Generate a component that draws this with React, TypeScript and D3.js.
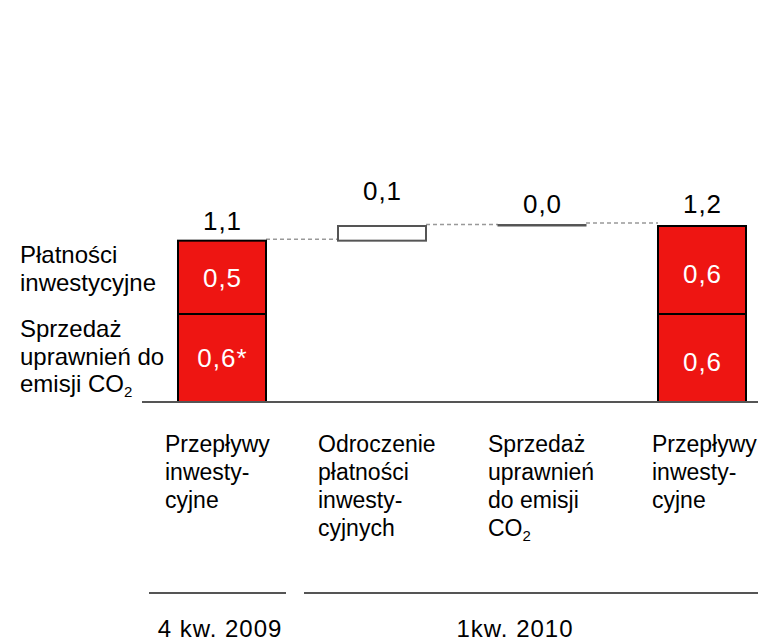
import React from "react";
import * as d3 from "d3";

// ---------- data ----------
const categories = ["start", "deferral", "co2sale", "end"];
const startSegments = [0.6, 0.5];
const startSegmentLabels = ["0,6*", "0,5"];
const deltaValues = [0.1, 0.01];
const endSegments = [0.6, 0.6];
const endSegmentLabels = ["0,6", "0,6"];
const totalLabels = ["1,1", "0,1", "0,0", "1,2"];
const categoryLines = [
  ["Przepływy", "inwesty-", "cyjne"],
  ["Odroczenie", "płatności", "inwesty-", "cyjnych"],
  ["Sprzedaż", "uprawnień", "do emisji", "CO2"],
  ["Przepływy", "inwesty-", "cyjne"],
];
const segmentNames = [
  ["Sprzedaż", "uprawnień do", "emisji CO2"],
  ["Płatności", "inwestycyjne"],
];
const periods = ["4 kw. 2009", "1kw. 2010"];

// ---------- layout ----------
const W = 758;
const H = 643;
const FONT = "Arial, 'Liberation Sans', Helvetica, sans-serif";
const RED = "#ee1512";
const GREY = "#555555";
const DASH = "#999999";

const x = d3
  .scaleBand<string>()
  .domain(categories)
  .range([142, 782])
  .paddingInner(0.45)
  .paddingOuter(0.225);
const y = d3.scaleLinear().domain([0, 1.2]).range([402, 226]);
const bw = x.bandwidth();

function renderLine(s: string) {
  if (s.endsWith("CO2")) {
    return (
      <>
        {s.slice(0, -1)}
        <tspan fontSize={15} dy={5}>
          2
        </tspan>
      </>
    );
  }
  return s;
}

function stack(values: number[]) {
  let acc = 0;
  return values.map((v) => {
    const s = { y0: acc, y1: acc + v };
    acc += v;
    return s;
  });
}

export default function App() {
  const startStack = stack(startSegments);
  const endStack = stack(endSegments);
  const startTotal = d3.sum(startSegments);
  const endTotal = d3.sum(endSegments);

  const deltas: { y0: number; y1: number }[] = [];
  let level = startTotal;
  deltaValues.forEach((d) => {
    deltas.push({ y0: level, y1: level + d });
    level += d;
  });

  const tops = [startTotal, deltas[0].y1, deltas[1].y1, endTotal];
  const labelLift = [11, 26, 12, 13];
  const labelOffsetX = [-13, -20, -10, -6];

  const bars = [
    { cat: categories[0], segs: startStack, labels: startSegmentLabels },
    { cat: categories[3], segs: endStack, labels: endSegmentLabels },
  ];

  const connectors = [
    { x1: x(categories[0])! + bw, x2: x(categories[1])!, v: startTotal },
    { x1: x(categories[1])! + bw, x2: x(categories[2])!, v: deltas[0].y1 },
    { x1: x(categories[2])! + bw, x2: x(categories[3])!, v: deltas[1].y1 },
  ];

  return (
    <svg
      width={W}
      height={H}
      style={{ position: "absolute", left: 0, top: 0, background: "#fff" }}
      fontFamily={FONT}
    >
      {connectors.map((c, i) => (
        <line
          key={"c" + i}
          x1={c.x1}
          x2={c.x2}
          y1={y(c.v) - 1.5}
          y2={y(c.v) - 1.5}
          stroke={DASH}
          strokeWidth={1.5}
          strokeDasharray="4 3"
        />
      ))}

      {bars.map((b, bi) =>
        b.segs.map((s, si) => (
          <g key={`b${bi}-${si}`}>
            <rect
              x={x(b.cat)!}
              width={bw}
              y={y(s.y1)}
              height={y(s.y0) - y(s.y1)}
              fill={RED}
              stroke="#000"
              strokeWidth={2}
            />
            <text
              x={x(b.cat)! + bw / 2 + 0.5}
              y={(y(s.y0) + y(s.y1)) / 2 + (bi === 1 ? 4 : 0)}
              dy="0.36em"
              textAnchor="middle"
              fill="#fff"
              fontSize={26}
              letterSpacing={1}
            >
              {b.labels[si]}
            </text>
          </g>
        ))
      )}

      <rect
        x={x(categories[1])!}
        width={bw}
        y={y(deltas[0].y1)}
        height={y(deltas[0].y0) - y(deltas[0].y1)}
        fill="#fff"
        stroke={GREY}
        strokeWidth={2}
      />
      <rect
        x={x(categories[2])!}
        width={bw}
        y={y(deltas[1].y1)}
        height={Math.max(0.5, y(deltas[1].y0) - y(deltas[1].y1))}
        fill={GREY}
        stroke={GREY}
        strokeWidth={1}
      />

      <line x1={142} x2={W} y1={y(0)} y2={y(0)} stroke={GREY} strokeWidth={2} />

      {categories.map((c, i) => (
        <text
          key={"t" + i}
          x={x(c)! + bw / 2 + 0.5}
          y={y(tops[i]) - labelLift[i]}
          textAnchor="middle"
          fontSize={26}
          letterSpacing={1}
          fill="#000"
        >
          {totalLabels[i]}
        </text>
      ))}

      {segmentNames.map((lines, si) => {
        const lh = si === 0 ? 27.5 : 28;
        const first = si === 0 ? 337 : 263;
        return (
          <text key={"s" + si} fontSize={24} fill="#000">
            {lines.map((l, li) => (
              <tspan key={li} x={20} y={first + li * lh}>
                {renderLine(l)}
              </tspan>
            ))}
          </text>
        );
      })}

      {categories.map((c, i) => (
        <text key={"cl" + i} fontSize={23} fill="#000">
          {categoryLines[i].map((l, li) => (
            <tspan key={li} x={x(c)! + labelOffsetX[i]} y={452 + li * 28}>
              {renderLine(l)}
            </tspan>
          ))}
        </text>
      ))}

      <line
        x1={x(categories[0])! - 29}
        x2={x(categories[0])! + bw + 20}
        y1={593}
        y2={593}
        stroke={GREY}
        strokeWidth={2}
      />
      <line
        x1={x(categories[1])! - 34}
        x2={W}
        y1={593}
        y2={593}
        stroke={GREY}
        strokeWidth={2}
      />
      <text x={x(categories[0])! + bw / 2 - 2} y={637} textAnchor="middle" fontSize={24} letterSpacing={1}>
        {periods[0]}
      </text>
      <text x={x(categories[2])! + 17} y={637} textAnchor="middle" fontSize={24} letterSpacing={1}>
        {periods[1]}
      </text>
    </svg>
  );
}
